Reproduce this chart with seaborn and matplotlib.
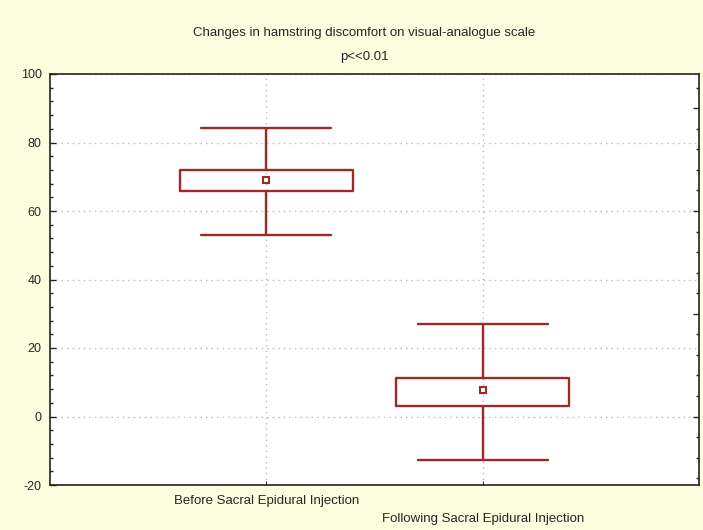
import matplotlib
matplotlib.use('Agg')
import matplotlib.pyplot as plt
import pandas as pd
import seaborn as sns
from matplotlib.ticker import MultipleLocator

# summary values (VAS score)
groups = ['Before Sacral Epidural Injection', 'Following Sacral Epidural Injection']
means = [69.0, 7.7]
box_low = [65.9, 3.2]
box_high = [72.1, 11.1]
whisk_low = [53.1, -12.6]
whisk_high = [84.2, 27.0]

title = 'Changes in hamstring discomfort on visual-analogue scale'
subtitle = 'p<<0.01'
y_ticks = [-20, 0, 20, 40, 60, 80, 100]

red = '#a0282a'
bg = '#fdfde0'

# 5 summary points per group -> quartiles land on box edges, min/max on whiskers
rows = []
for g, lo, b0, m, b1, hi in zip(groups, whisk_low, box_low, means, box_high, whisk_high):
    for v in (lo, b0, m, b1, hi):
        rows.append({'group': g, 'vas': v})
df = pd.DataFrame(rows)
df_mean = pd.DataFrame({'group': groups, 'vas': means})

sns.set_style('white')
plt.rcParams['font.family'] = ['Liberation Sans', 'DejaVu Sans']
plt.rcParams['axes.unicode_minus'] = False

fig = plt.figure(figsize=(7.03, 5.30), dpi=100, facecolor=bg)
ax = fig.add_axes([50 / 703, 1 - 485 / 530, 649 / 703, 411 / 530])

sns.boxplot(data=df, x='group', y='vas', order=groups, whis=(0, 100), width=0.8,
            fill=False, color=red, linewidth=1.7, ax=ax,
            medianprops=dict(visible=False),
            capprops=dict(color=red), whiskerprops=dict(color=red),
            boxprops=dict(color=red))
# caps a bit narrower than the boxes
for line in ax.lines:
    x = line.get_xdata()
    if len(x) == 2 and x[0] != x[1]:
        c = (x[0] + x[1]) / 2
        line.set_xdata([c - 0.3, c + 0.3])

sns.pointplot(data=df_mean, x='group', y='vas', order=groups, errorbar=None,
              marker='s', linestyle='none', color=red, markersize=4,
              markerfacecolor='white', markeredgewidth=1.5, ax=ax)

ax.set_xlim(-1, 2)
ax.set_ylim(-20, 100)
ax.set_yticks(y_ticks)
ax.yaxis.set_minor_locator(MultipleLocator(4))
ax.set_xlabel('')
ax.set_ylabel('')
ax.set_xticks([0, 1])
ax.set_xticklabels([groups[0], '\n' + groups[1]], fontsize=9.5, linespacing=1.7)
ax.tick_params(axis='y', labelsize=9, direction='in', length=4, width=1, left=True, pad=6)
ax.tick_params(axis='y', which='minor', direction='in', length=2.5, width=1, left=True)
ax.tick_params(axis='x', direction='in', length=3, width=0.8, bottom=True, pad=7)

ax.grid(True, which='major', linestyle=(0, (1, 3)), color='#b8b8b8', linewidth=1)
ax.set_axisbelow(True)
for s in ax.spines.values():
    s.set_visible(True)
    s.set_color('#222222')
    s.set_linewidth(1.2)

# right side tick marks (no labels)
ax2 = ax.twinx()
ax2.set_ylim(-20, 100)
ax2.yaxis.set_major_locator(MultipleLocator(30))
ax2.yaxis.set_minor_locator(MultipleLocator(6))
ax2.tick_params(axis='y', which='major', direction='in', length=4, width=1, labelright=False)
ax2.tick_params(axis='y', which='minor', direction='in', length=2.5, width=1)
for s in ax2.spines.values():
    s.set_visible(False)

fig.text(364 / 703, 1 - 33 / 530, title, ha='center', va='center', fontsize=9.5)
fig.text(364 / 703, 1 - 57 / 530, subtitle, ha='center', va='center', fontsize=9.5)

fig.savefig('out.png', dpi=100, facecolor=bg)
